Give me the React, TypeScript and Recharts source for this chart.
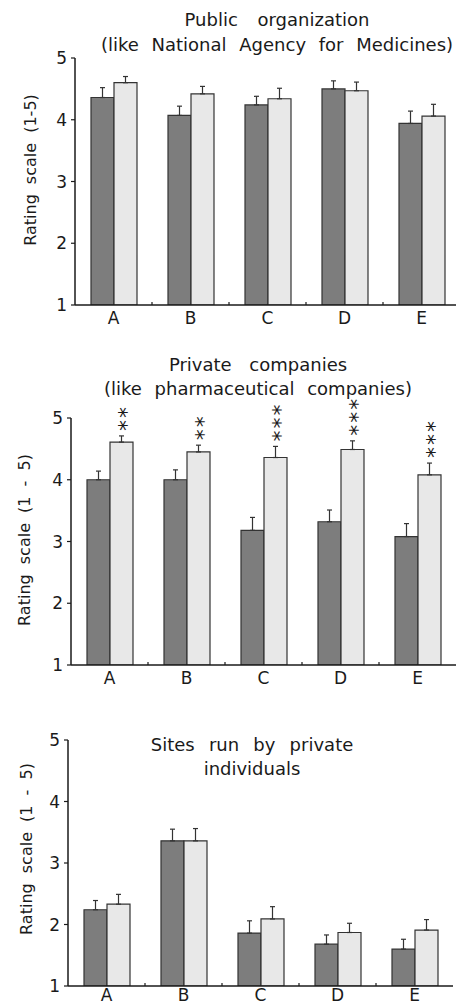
import { Bar, BarChart, ErrorBar, LabelList, XAxis, YAxis } from 'recharts'

const FONT = '"DejaVu Sans", sans-serif'
const DARK = '#7d7d7d'
const LIGHT = '#e8e8e8'
const EDGE = '#333333'
const INK = '#1a1a1a'

const categories = ['A', 'B', 'C', 'D', 'E']
const yTicks = [1, 2, 3, 4, 5]

// Public organization
const publicDark = [4.36, 4.07, 4.24, 4.5, 3.94]
const publicDarkErr = [0.16, 0.15, 0.14, 0.13, 0.2]
const publicLight = [4.6, 4.42, 4.34, 4.47, 4.06]
const publicLightErr = [0.1, 0.12, 0.17, 0.14, 0.19]

// Private companies
const privateDark = [4.0, 4.0, 3.18, 3.32, 3.08]
const privateDarkErr = [0.14, 0.16, 0.21, 0.19, 0.21]
const privateLight = [4.61, 4.45, 4.36, 4.49, 4.08]
const privateLightErr = [0.1, 0.11, 0.18, 0.14, 0.19]
const privateStars = ['**', '**', '***', '***', '***']

// Sites run by private individuals
const sitesDark = [2.24, 3.36, 1.86, 1.68, 1.6]
const sitesDarkErr = [0.15, 0.19, 0.2, 0.15, 0.16]
const sitesLight = [2.33, 3.36, 2.09, 1.87, 1.91]
const sitesLightErr = [0.16, 0.2, 0.2, 0.15, 0.17]

interface IRow {
	name: string
	dark: number
	darkErr: number[]
	light: number
	lightErr: number[]
	stars: string
}

const makeRows = (dark: number[], darkErr: number[], light: number[], lightErr: number[], stars: string[] = []): IRow[] =>
	categories.map((name, i) => ({
		name,
		dark: dark[i],
		darkErr: [0, darkErr[i]],
		light: light[i],
		lightErr: [0, lightErr[i]],
		stars: stars[i] ?? '',
	}))

const makeTick = (labelOffset: number) => (props: any) => {
	const { x, y, payload, index } = props
	const half = payload?.offset ?? 38.5
	return (
		<g>
			<text x={x} y={y + labelOffset} textAnchor='middle' fontSize={17} fontFamily={FONT} fill={INK}>
				{payload.value}
			</text>
			{index < categories.length - 1 && (
				<line x1={x + half} x2={x + half} y1={y} y2={y - 3} stroke={INK} strokeWidth={1.2} />
			)}
		</g>
	)
}

// significance marks, stacked vertically above the light bar's error bar
const starsFor = (rows: IRow[]) => (props: any) => {
	const { x, y, width, height, index } = props
	const row = rows[index]
	if (!row || !row.stars) return null
	const unit = height / (row.light - 1)
	const errTop = y - row.lightErr[1] * unit
	const cx = x + width / 2
	const ay = errTop - 5
	return (
		<text
			x={cx}
			y={ay}
			dy={13}
			transform={`rotate(-90, ${cx}, ${ay})`}
			fontSize={22}
			fontFamily={FONT}
			fill={INK}
			style={{ letterSpacing: 2 }}
		>
			{row.stars}
		</text>
	)
}

interface ITitleLine {
	text: string
	y: number
	ws: number
}

interface IPanel {
	rows: IRow[]
	top: number
	width: number
	height: number
	axisWidth: number
	marginTop: number
	titleX: number
	titles: ITitleLine[]
	yLabel: string
	yLabelX: number
	yLabelY: number
	labelOffset: number
	withStars?: boolean
}

const Panel: React.FC<IPanel> = ({
	rows,
	top,
	width,
	height,
	axisWidth,
	marginTop,
	titleX,
	titles,
	yLabel,
	yLabelX,
	yLabelY,
	labelOffset,
	withStars,
}) => (
	<div style={{ position: 'absolute', left: 0, top }}>
		<BarChart
			width={width}
			height={height}
			data={rows}
			margin={{ top: marginTop, right: 10, bottom: 0, left: 0 }}
			barGap={0}
		>
			<XAxis
				dataKey='name'
				height={30}
				axisLine={{ stroke: INK, strokeWidth: 1.5 }}
				tickLine={false}
				tickSize={0}
				tickMargin={0}
				tick={makeTick(labelOffset)}
				interval={0}
			/>
			<YAxis
				width={axisWidth}
				domain={[1, 5]}
				ticks={yTicks}
				allowDataOverflow
				axisLine={{ stroke: INK, strokeWidth: 1.5 }}
				tickLine={{ stroke: INK, strokeWidth: 1.2 }}
				tickSize={4}
				tickMargin={4}
				tick={{ fill: INK, fontSize: 17, fontFamily: FONT }}
			/>
			<Bar dataKey='dark' fill={DARK} stroke={EDGE} strokeWidth={1.2} barSize={23} isAnimationActive={false}>
				<ErrorBar dataKey='darkErr' width={2.5} stroke={EDGE} strokeWidth={1.2} direction='y' isAnimationActive={false} />
			</Bar>
			<Bar dataKey='light' fill={LIGHT} stroke={EDGE} strokeWidth={1.2} barSize={23} isAnimationActive={false}>
				<ErrorBar dataKey='lightErr' width={2.5} stroke={EDGE} strokeWidth={1.2} direction='y' isAnimationActive={false} />
				{withStars && <LabelList dataKey='stars' content={starsFor(rows)} />}
			</Bar>
			{titles.map((t) => (
				<text
					key={t.text}
					x={titleX}
					y={t.y}
					textAnchor='middle'
					fontSize={18}
					fontFamily={FONT}
					fill={INK}
					style={{ wordSpacing: t.ws }}
				>
					{t.text}
				</text>
			))}
			<text
				x={yLabelX}
				y={yLabelY}
				transform={`rotate(-90, ${yLabelX}, ${yLabelY})`}
				textAnchor='middle'
				fontSize={16}
				fontFamily={FONT}
				fill={INK}
				style={{ wordSpacing: 5 }}
			>
				{yLabel}
			</text>
		</BarChart>
	</div>
)

const App = () => (
	<div
		style={{
			position: 'absolute',
			left: 0,
			top: 0,
			width: 456,
			height: 1005,
			overflow: 'hidden',
			background: '#fff',
		}}
	>
		<Panel
			rows={makeRows(publicDark, publicDarkErr, publicLight, publicLightErr)}
			top={0}
			width={470}
			height={335}
			axisWidth={75}
			marginTop={58}
			titleX={277}
			titles={[
				{ text: 'Public organization', y: 26, ws: 14 },
				{ text: '(like National Agency for Medicines)', y: 51, ws: 7 },
			]}
			yLabel='Rating scale (1-5)'
			yLabelX={36}
			yLabelY={170}
			labelOffset={19}
		/>
		<Panel
			rows={makeRows(privateDark, privateDarkErr, privateLight, privateLightErr, privateStars)}
			top={330}
			width={466}
			height={365}
			axisWidth={71}
			marginTop={88}
			titleX={258}
			titles={[
				{ text: 'Private companies', y: 41, ws: 12 },
				{ text: '(like pharmaceutical companies)', y: 65, ws: 7 },
			]}
			yLabel='Rating scale (1 - 5)'
			yLabelX={30}
			yLabelY={210}
			labelOffset={19}
			withStars
		/>
		<Panel
			rows={makeRows(sitesDark, sitesDarkErr, sitesLight, sitesLightErr)}
			top={680}
			width={463}
			height={336}
			axisWidth={68}
			marginTop={60}
			titleX={252}
			titles={[
				{ text: 'Sites run by private', y: 71, ws: 8.5 },
				{ text: 'individuals', y: 95, ws: 0 },
			]}
			yLabel='Rating scale (1 - 5)'
			yLabelX={32}
			yLabelY={169}
			labelOffset={15}
		/>
	</div>
)

export default App
